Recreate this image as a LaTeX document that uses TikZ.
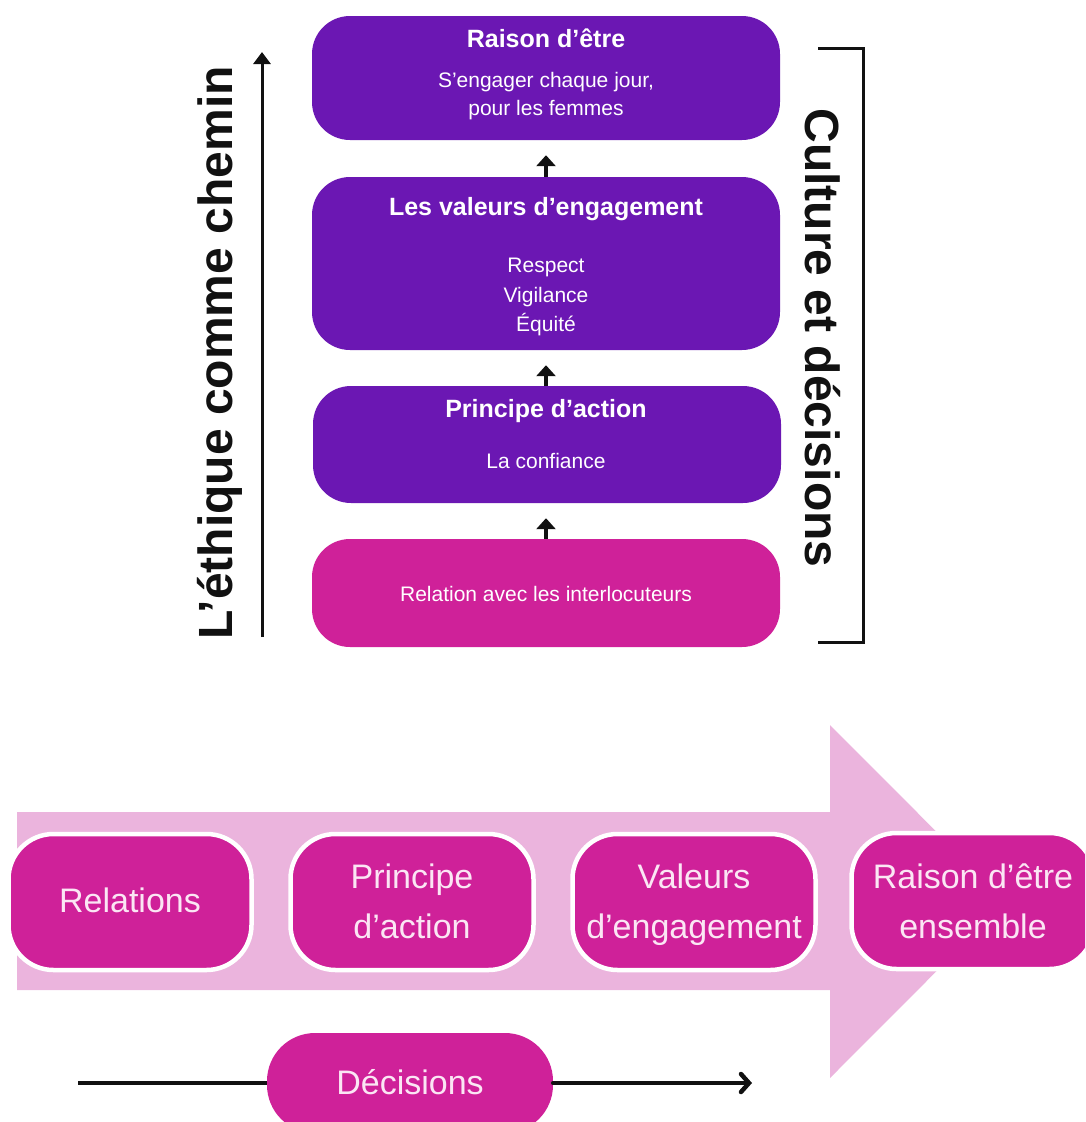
\documentclass[tikz,border=0pt]{standalone}
\usepackage{fontspec}
\setmainfont{Liberation Sans}
\usetikzlibrary{arrows.meta}
\definecolor{purp}{HTML}{6B17B3}
\definecolor{mag}{HTML}{CF2199}
\definecolor{lpink}{HTML}{EBB4DD}
\definecolor{ptext}{HTML}{FBE6F4}
\definecolor{ink}{HTML}{111111}
\begin{document}
\begin{tikzpicture}[x=1pt,y=-1pt,
  topbox/.style={fill=purp, rounded corners=38pt, minimum width=468pt, inner sep=0pt},
  botbox/.style={fill=mag, draw=white, line width=4.5pt, rounded corners=45pt,
                 minimum width=243pt, minimum height=136pt, inner sep=0pt},
  ttl/.style={font=\fontsize{25}{30}\selectfont\bfseries, text=white, inner sep=0pt, anchor=base},
  sub/.style={font=\fontsize{21}{25}\selectfont, text=white, inner sep=0pt, anchor=base},
  btxt/.style={font=\fontsize{34}{40}\selectfont, text=ptext, inner sep=0pt, anchor=base},
  vtxt/.style={font=\fontsize{48}{56}\selectfont\bfseries, text=ink, inner sep=0pt, anchor=base},
  uparr/.style={draw=ink, line width=4pt, -{Triangle[length=11pt,width=19pt]}, shorten >=15pt},
]
\useasboundingbox (0,0) rectangle (1085,1122);
\clip (0,0) rectangle (1085,1122);

% ---------- top stack ----------
\node[topbox, minimum height=124pt] (b1) at (546,78) {};
\node[topbox, minimum height=173pt] (b2) at (546,263.5) {};
\node[topbox, minimum height=117pt] (b3) at (547,444.5) {};
\node[topbox, minimum height=108pt, fill=mag] (b4) at (546,593) {};

\node[ttl] (t1) at (546,47.5) {Raison d’être};
\node[sub] (s1a) at (546,87) {S’engager chaque jour,};
\node[sub] (s1b) at (546,115) {pour les femmes};

\node[ttl] (t2) at (546,215) {Les valeurs d’engagement};
\node[sub] (s2a) at (546,272) {Respect};
\node[sub] (s2b) at (546,302) {Vigilance};
\node[sub] (s2c) at (546,331) {Équité};

\node[ttl] (t3) at (546,417) {Principe d’action};
\node[sub] (s3) at (546,468) {La confiance};

\node[sub] (s4) at (546,601) {Relation avec les interlocuteurs};

\draw[uparr] (b2.north) -- (b1.south);
\draw[uparr] (b3.north -| b2.north) -- (b2.south);
\draw[uparr] (b4.north) -- (b3.south -| b4.north);

% ---------- left arrow and text ----------
\coordinate (la0) at (262,637);
\coordinate (la1) at (262,52);
\draw[draw=ink, line width=3pt, -{Triangle[length=12pt,width=17pt]}] (la0) -- (la1);
\node[vtxt, rotate=90] (lt) at (232,353) {L’éthique comme chemin};

% ---------- right bracket and text ----------
\coordinate (br0) at (818,48);
\coordinate (br1) at (863,48);
\coordinate (br2) at (863,642);
\coordinate (br3) at (818,642);
\draw[draw=ink, line width=3pt] (br0) -- (br1) -- (br2) -- (br3);
\node[vtxt, rotate=-90] (rt) at (805,338) {Culture et décisions};

% ---------- big pink arrow ----------
\fill[lpink] (17,812) -- (830,812) -- (830,725) -- (1006,901.5) -- (830,1078)
  -- (830,990) -- (17,990) -- cycle;

\node[botbox] (p1) at (130,902) {};
\node[botbox] (p2) at (412,902) {};
\node[botbox] (p3) at (694,902) {};
\node[botbox] (p4) at (973,901) {};

\node[btxt] (q1) at (130,912) {Relations};
\node[btxt] (q2a) at (412,888) {Principe};
\node[btxt] (q2b) at (412,938) {d’action};
\node[btxt] (q3a) at (694,888) {Valeurs};
\node[btxt] (q3b) at (694,938) {d’engagement};
\node[btxt] (q4a) at (973,888) {Raison d’être};
\node[btxt] (q4b) at (973,938) {ensemble};

% ---------- decisions ----------
\coordinate (dl) at (78,1083);
\coordinate (dr) at (752,1083);
\node[fill=mag, rounded corners=48pt, minimum width=286pt, minimum height=100pt, inner sep=0pt] (dec) at (410,1083) {};
\draw[draw=ink, line width=4.5pt] (dl) -- (dec.west);
\draw[draw=ink, line width=4.5pt, line cap=round, -{Straight Barb[length=8pt,width=18pt,line cap=round]}] (dec.east) -- (dr);
\node[btxt] (dt) at (410,1094) {Décisions};
\end{tikzpicture}
\end{document}
